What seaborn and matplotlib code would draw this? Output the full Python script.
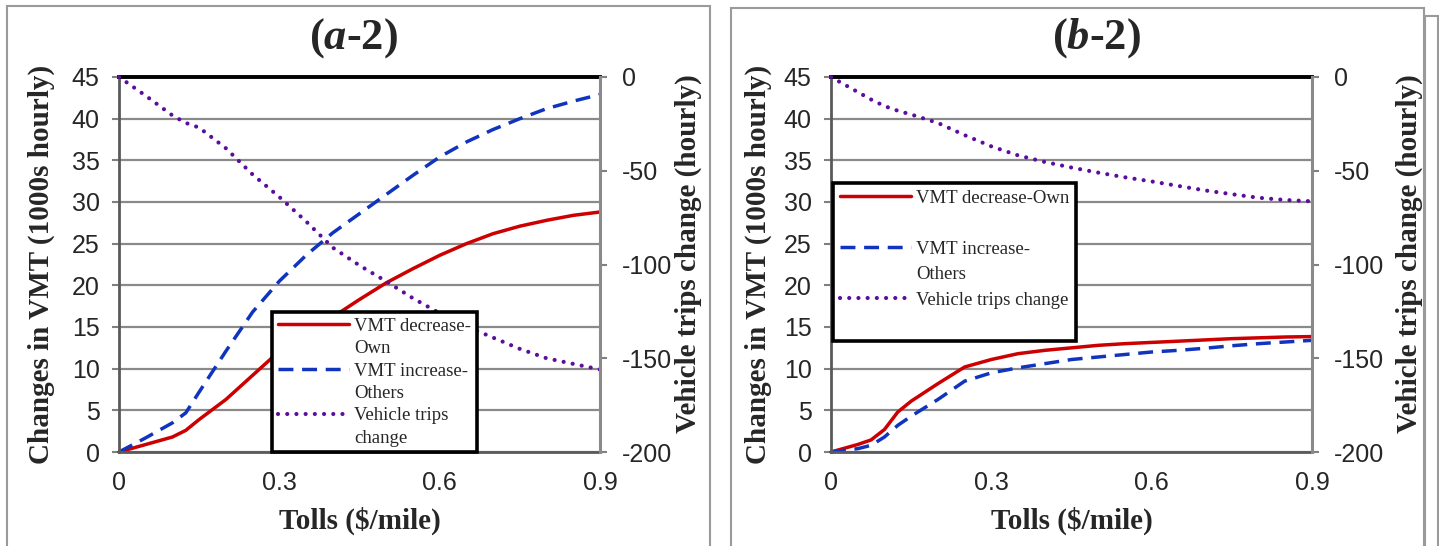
import matplotlib
matplotlib.use('Agg')
import matplotlib.pyplot as plt
import seaborn as sns
import pandas as pd
from matplotlib.lines import Line2D
from matplotlib.patches import Rectangle

# datos (a-2)
tolls_a = [0, 0.05, 0.1, 0.125, 0.15, 0.2, 0.25, 0.3, 0.35, 0.4, 0.45, 0.5, 0.55, 0.6, 0.65, 0.7, 0.75, 0.8, 0.85, 0.9]
own_a = [0, 0.9, 1.8, 2.6, 3.9, 6.3, 9.2, 12.1, 14.2, 16.2, 18.3, 20.3, 22.0, 23.6, 25.0, 26.2, 27.1, 27.8, 28.4, 28.8]
others_a = [0, 1.7, 3.5, 4.7, 7.2, 12.1, 16.8, 20.5, 23.6, 26.3, 28.6, 30.9, 33.2, 35.4, 37.2, 38.7, 40.0, 41.2, 42.1, 42.9]
trips_a = [0, -10, -20.5, -24.5, -27, -38, -52, -64, -77, -91, -100.5, -109, -118, -126, -133, -139, -145, -150, -153, -156]

# datos (b-2)
tolls_b = [0, 0.05, 0.075, 0.1, 0.125, 0.15, 0.2, 0.25, 0.3, 0.35, 0.4, 0.45, 0.5, 0.55, 0.6, 0.65, 0.7, 0.75, 0.8, 0.85, 0.9]
own_b = [0, 0.9, 1.45, 2.7, 4.8, 6.1, 8.2, 10.2, 11.1, 11.8, 12.2, 12.5, 12.8, 13.0, 13.15, 13.3, 13.45, 13.6, 13.7, 13.8, 13.85]
others_b = [0, 0.4, 0.8, 1.8, 3.2, 4.3, 6.3, 8.5, 9.5, 10.1, 10.6, 11.1, 11.4, 11.7, 12.0, 12.2, 12.45, 12.75, 13.0, 13.2, 13.4]
trips_b = [0, -8, -12, -15.5, -18, -20, -24.5, -31, -37, -41.8, -45.3, -48.3, -51, -53.5, -55.7, -58.1, -60.5, -62.5, -64.4, -65.6, -66.3]

x_ticks = [0, 0.3, 0.6, 0.9]
x_tick_labels = ["0", "0.3", "0.6", "0.9"]
left_ticks = list(range(0, 50, 5))
right_ticks = [-200, -150, -100, -50, 0]
titles = ["a", "b"]

sns.set_style("white")
plt.rcParams['mathtext.fontset'] = 'custom'
plt.rcParams['mathtext.rm'] = 'Liberation Serif'
plt.rcParams['mathtext.bf'] = 'Liberation Serif:bold'
plt.rcParams['mathtext.it'] = 'Liberation Serif:italic'
plt.rcParams['mathtext.bfit'] = 'Liberation Serif:italic:bold'

RED = "#CC0000"
BLUE = "#1034BE"
PURPLE = "#5B0E9E"
GRID = "#8A8A8A"
SPINE = "#5A5A5A"
DASH = (0, (4.3, 2.5))
DOT = (0, (0.01, 2.2))

W, H = 1439, 546
fig = plt.figure(figsize=(W / 100, H / 100), dpi=100)

# marcos grises de cada panel
fig.add_artist(Rectangle((7 / W, -0.1), 703 / W, (546 - 6) / H + 0.1, fill=False,
                         ec="#9A9A9A", lw=1.5, transform=fig.transFigure))
fig.add_artist(Rectangle((731 / W, -0.1), 693 / W, (546 - 8) / H + 0.1, fill=False,
                         ec="#9A9A9A", lw=1.5, transform=fig.transFigure))
fig.add_artist(Rectangle((1425 / W, -0.1), 13 / W, (546 - 16) / H + 0.1, fill=False,
                         ec="#9A9A9A", lw=1.5, transform=fig.transFigure))

panels = [
    dict(left=119, tolls=tolls_a, own=own_a, others=others_a, trips=trips_a,
         title_x=353, ylab_l=-0.133, ylab_r=1.156),
    dict(left=831, tolls=tolls_b, own=own_b, others=others_b, trips=trips_b,
         title_x=1096, ylab_l=-0.123, ylab_r=1.173),
]

tick_font = dict(family="Liberation Sans", size=18)
label_font = dict(family="Liberation Serif", size=21, weight="bold")

for i, p in enumerate(panels):
    ax = fig.add_axes([p["left"] / W, (H - 452) / H, 481 / W, 375 / H])
    ax2 = ax.twinx()

    df = pd.DataFrame({"Tolls": p["tolls"], "Own": p["own"], "Others": p["others"], "Trips": p["trips"]})
    sns.lineplot(data=df, x="Tolls", y="Own", ax=ax, color=RED, lw=2.5, clip_on=False)
    sns.lineplot(data=df, x="Tolls", y="Others", ax=ax, color=BLUE, lw=2.5,
                 linestyle=DASH, clip_on=False)
    sns.lineplot(data=df, x="Tolls", y="Trips", ax=ax2, color=PURPLE, lw=3.0,
                 linestyle=DOT, dash_capstyle="round", clip_on=False)

    ax.set_xlim(0, 0.9)
    ax.set_ylim(0, 45)
    ax2.set_ylim(-200, 0)
    ax.set_xticks(x_ticks)
    ax.set_xticklabels(x_tick_labels, **tick_font)
    ax.set_yticks(left_ticks)
    ax.set_yticklabels([str(v) for v in left_ticks], **tick_font)
    ax2.set_yticks(right_ticks)
    ax2.set_yticklabels([str(v) for v in right_ticks], **tick_font)

    ax.grid(axis="y", color=GRID, lw=1.6)
    ax.grid(axis="x", visible=False)
    ax.set_axisbelow(True)

    ax.tick_params(axis="both", direction="out", length=5, width=1.5, color="#808080", pad=9)
    ax2.tick_params(axis="y", direction="out", length=5, width=1.5, color="#808080", pad=11)

    for side in ["left", "bottom"]:
        ax.spines[side].set_color(SPINE)
        ax.spines[side].set_linewidth(2.0)
    ax.spines["top"].set_color("black")
    ax.spines["top"].set_linewidth(2.8)
    ax.spines["right"].set_visible(False)
    for side in ["left", "bottom", "top"]:
        ax2.spines[side].set_visible(False)
    ax2.spines["right"].set_color("#8A8A8A")
    ax2.spines["right"].set_linewidth(2.2)

    ax.set_xlabel("Tolls ($/mile)", **label_font)
    ax.set_ylabel("Changes in VMT (1000s hourly)", **label_font)
    ax2.set_ylabel("Vehicle trips change (hourly)", rotation=90, **label_font)
    ax.xaxis.set_label_coords(0.5, -0.147)
    ax.yaxis.set_label_coords(p["ylab_l"], 0.5)
    ax2.yaxis.set_label_coords(p["ylab_r"], 0.53)

    fig.text(p["title_x"] / W, 1 - 38 / H, r"($\mathbfit{%s}$-2)" % titles[i],
             ha="center", va="center", family="Liberation Serif", weight="bold", size=32)

    h_own = Line2D([], [], color=RED, lw=2.5)
    h_oth = Line2D([], [], color=BLUE, lw=2.5, linestyle=DASH)
    h_trp = Line2D([], [], color=PURPLE, lw=3.0, linestyle=DOT, dash_capstyle="round")
    blank = Line2D([], [], color="none")
    handles = [h_own, blank, h_oth, blank, h_trp, blank]

    if i == 0:
        labels = ["VMT decrease-", "Own", "VMT increase-", "Others", "Vehicle trips", "change"]
        anchor = ((272 - 119) / 481, (452 - 312) / 375)
        spacing = 0.28
        bpad = 0.3
    else:
        labels = ["VMT decrease-Own", " ", "VMT increase-", "Others", "Vehicle trips change", " "]
        anchor = ((833 - 831) / 481, (452 - 183) / 375)
        spacing = 0.45
        bpad = 0.35

    leg = ax2.legend(handles, labels, loc="upper left", bbox_to_anchor=anchor,
                     prop=dict(family="Liberation Serif", size=13.5), handlelength=3.8,
                     handletextpad=0.3, labelspacing=spacing, borderpad=bpad,
                     borderaxespad=0, fancybox=False, framealpha=1, edgecolor="black")
    leg.get_frame().set_linewidth(2.6)

plt.savefig("out.png", dpi=100)
